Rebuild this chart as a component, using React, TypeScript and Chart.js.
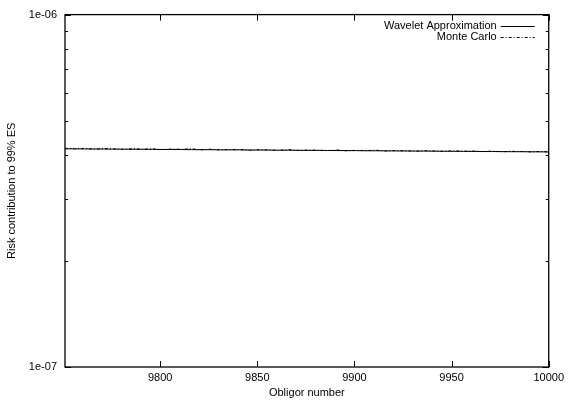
import React, { useEffect, useRef } from 'react';
import { Chart, registerables } from 'chart.js';

Chart.register(...registerables);

const obligors = [
  9751, 9756, 9761, 9766, 9771, 9776, 9781, 9786, 9791, 9796,
  9801, 9806, 9811, 9816, 9821, 9826, 9831, 9836, 9841, 9846,
  9851, 9856, 9861, 9866, 9871, 9876, 9881, 9886, 9891, 9896,
  9901, 9906, 9911, 9916, 9921, 9926, 9931, 9936, 9941, 9946,
  9951, 9956, 9961, 9966, 9971, 9976, 9981, 9986, 9991, 9996, 10000,
];

const waveletValues = [
  4.161e-7, 4.159e-7, 4.158e-7, 4.155e-7, 4.154e-7, 4.152e-7, 4.151e-7, 4.148e-7, 4.147e-7, 4.146e-7,
  4.143e-7, 4.142e-7, 4.141e-7, 4.138e-7, 4.137e-7, 4.136e-7, 4.133e-7, 4.132e-7, 4.131e-7, 4.128e-7,
  4.127e-7, 4.126e-7, 4.123e-7, 4.122e-7, 4.121e-7, 4.118e-7, 4.117e-7, 4.116e-7, 4.113e-7, 4.112e-7,
  4.111e-7, 4.108e-7, 4.107e-7, 4.106e-7, 4.103e-7, 4.102e-7, 4.101e-7, 4.098e-7, 4.097e-7, 4.096e-7,
  4.093e-7, 4.092e-7, 4.091e-7, 4.088e-7, 4.087e-7, 4.086e-7, 4.083e-7, 4.082e-7, 4.081e-7, 4.078e-7, 4.077e-7,
];

const monteCarloValues = [
  4.175e-7, 4.162e-7, 4.170e-7, 4.150e-7, 4.168e-7, 4.158e-7, 4.146e-7, 4.165e-7, 4.152e-7, 4.160e-7,
  4.140e-7, 4.155e-7, 4.148e-7, 4.162e-7, 4.135e-7, 4.150e-7, 4.128e-7, 4.145e-7, 4.140e-7, 4.122e-7,
  4.138e-7, 4.130e-7, 4.118e-7, 4.142e-7, 4.115e-7, 4.128e-7, 4.125e-7, 4.110e-7, 4.130e-7, 4.106e-7,
  4.120e-7, 4.112e-7, 4.125e-7, 4.100e-7, 4.115e-7, 4.108e-7, 4.095e-7, 4.112e-7, 4.100e-7, 4.090e-7,
  4.108e-7, 4.095e-7, 4.102e-7, 4.085e-7, 4.098e-7, 4.080e-7, 4.092e-7, 4.088e-7, 4.078e-7, 4.090e-7, 4.075e-7,
];

const seriesNames = ['Wavelet Approximation', 'Monte Carlo'];
const xTicks = [9800, 9850, 9900, 9950, 10000];
const yTicks = [1e-7, 2e-7, 3e-7, 4e-7, 5e-7, 6e-7, 7e-7, 8e-7, 9e-7, 1e-6];
const yLabelledTicks = [1e-7, 1e-6];
const xAxisTitle = 'Obligor number';
const yAxisTitle = 'Risk contribution to 99% ES';

const FONT = '"Liberation Sans", Arial, Helvetica, sans-serif';
const FONT_SIZE = 11;

function fmtExp(v: number): string {
  return v.toExponential(0).replace(/e([+-])(\d)$/, 'e$10$2');
}

const dashMC = [3, 2, 1, 2];

const framePlugin = {
  id: 'gnuplotFrame',
  afterDatasetsDraw(chart: any) {
    const { ctx, chartArea: a, scales } = chart;
    ctx.save();
    ctx.strokeStyle = '#000';
    ctx.lineWidth = 1;
    ctx.beginPath();
    xTicks.forEach((v) => {
      const x = Math.round(scales.x.getPixelForValue(v)) + 0.5;
      ctx.moveTo(x, a.bottom);
      ctx.lineTo(x, a.bottom - 6);
      ctx.moveTo(x, a.top);
      ctx.lineTo(x, a.top + 6);
    });
    yTicks.forEach((v) => {
      const y = Math.round(scales.y.getPixelForValue(v)) + 0.5;
      const len = yLabelledTicks.includes(v) ? 6 : 3;
      ctx.moveTo(a.left, y);
      ctx.lineTo(a.left + len, y);
      ctx.moveTo(a.right, y);
      ctx.lineTo(a.right - len, y);
    });
    ctx.stroke();

    ctx.lineWidth = 1.3;
    ctx.strokeRect(a.left, a.top, a.right - a.left, a.bottom - a.top);

    // legend
    ctx.font = `${FONT_SIZE}px ${FONT}`;
    ctx.fillStyle = '#000';
    ctx.textAlign = 'right';
    ctx.textBaseline = 'middle';
    const textRight = a.right - 52;
    const sampleStart = a.right - 48;
    const sampleEnd = a.right - 14;
    const rows = [a.top + 11.5, a.top + 22];
    chart.data.datasets.forEach((ds: any, i: number) => {
      const y = rows[i];
      ctx.fillText(ds.label, textRight, y);
      ctx.beginPath();
      ctx.lineWidth = 1;
      ctx.setLineDash(ds.borderDash || []);
      ctx.moveTo(sampleStart, Math.round(y) + 0.5);
      ctx.lineTo(sampleEnd, Math.round(y) + 0.5);
      ctx.stroke();
      ctx.setLineDash([]);
    });
    ctx.restore();
  },
};

export default function App() {
  const canvasRef = useRef<HTMLCanvasElement | null>(null);

  useEffect(() => {
    if (!canvasRef.current) return;
    const chart = new Chart(canvasRef.current, {
      type: 'line',
      data: {
        datasets: [
          {
            label: seriesNames[0],
            data: obligors.map((x, i) => ({ x, y: waveletValues[i] })),
            borderColor: '#000',
            borderWidth: 1,
            pointRadius: 0,
            fill: false,
            tension: 0,
            order: 1,
          },
          {
            label: seriesNames[1],
            data: obligors.map((x, i) => ({ x, y: monteCarloValues[i] })),
            borderColor: '#000',
            borderWidth: 1,
            borderDash: dashMC,
            pointRadius: 0,
            fill: false,
            tension: 0,
            order: 0,
          },
        ],
      },
      options: {
        animation: false,
        responsive: false,
        devicePixelRatio: 1,
        layout: { padding: { top: 12, right: 19, left: 0, bottom: 0 } },
        plugins: {
          legend: { display: false },
          tooltip: { enabled: false },
        },
        scales: {
          x: {
            type: 'linear',
            min: 9751,
            max: 10000,
            grid: { display: false, drawTicks: false },
            border: { display: false },
            afterBuildTicks: (scale: any) => {
              scale.ticks = xTicks.map((v) => ({ value: v }));
            },
            afterFit: (scale: any) => {
              scale.height = 33;
            },
            ticks: {
              autoSkip: false,
              maxRotation: 0,
              padding: 4,
              color: '#000',
              font: { family: FONT, size: FONT_SIZE },
              callback: (v: any) => String(v),
            },
            title: {
              display: true,
              text: xAxisTitle,
              color: '#000',
              font: { family: FONT, size: FONT_SIZE },
              padding: { top: 0, bottom: 0 },
            },
          },
          y: {
            type: 'logarithmic',
            min: 1e-7,
            max: 1e-6,
            grid: { display: false, drawTicks: false },
            border: { display: false },
            afterBuildTicks: (scale: any) => {
              scale.ticks = yTicks.map((v) => ({ value: v }));
            },
            afterFit: (scale: any) => {
              scale.width = 65;
            },
            ticks: {
              autoSkip: false,
              padding: 8,
              color: '#000',
              font: { family: FONT, size: FONT_SIZE },
              callback: (v: any) => {
                const n = Number(v);
                return yLabelledTicks.some((t) => Math.abs(t - n) / t < 1e-6) ? fmtExp(n) : '';
              },
            },
            title: {
              display: true,
              text: yAxisTitle,
              color: '#000',
              font: { family: FONT, size: FONT_SIZE },
              padding: { top: 5, bottom: 0 },
            },
          },
        },
      },
      plugins: [framePlugin],
    });
    return () => chart.destroy();
  }, []);

  return (
    <div style={{ position: 'fixed', left: 0, top: 0, width: 568, height: 400, background: '#fff' }}>
      <canvas ref={canvasRef} width={568} height={400} style={{ width: 568, height: 400, display: 'block' }} />
    </div>
  );
}
